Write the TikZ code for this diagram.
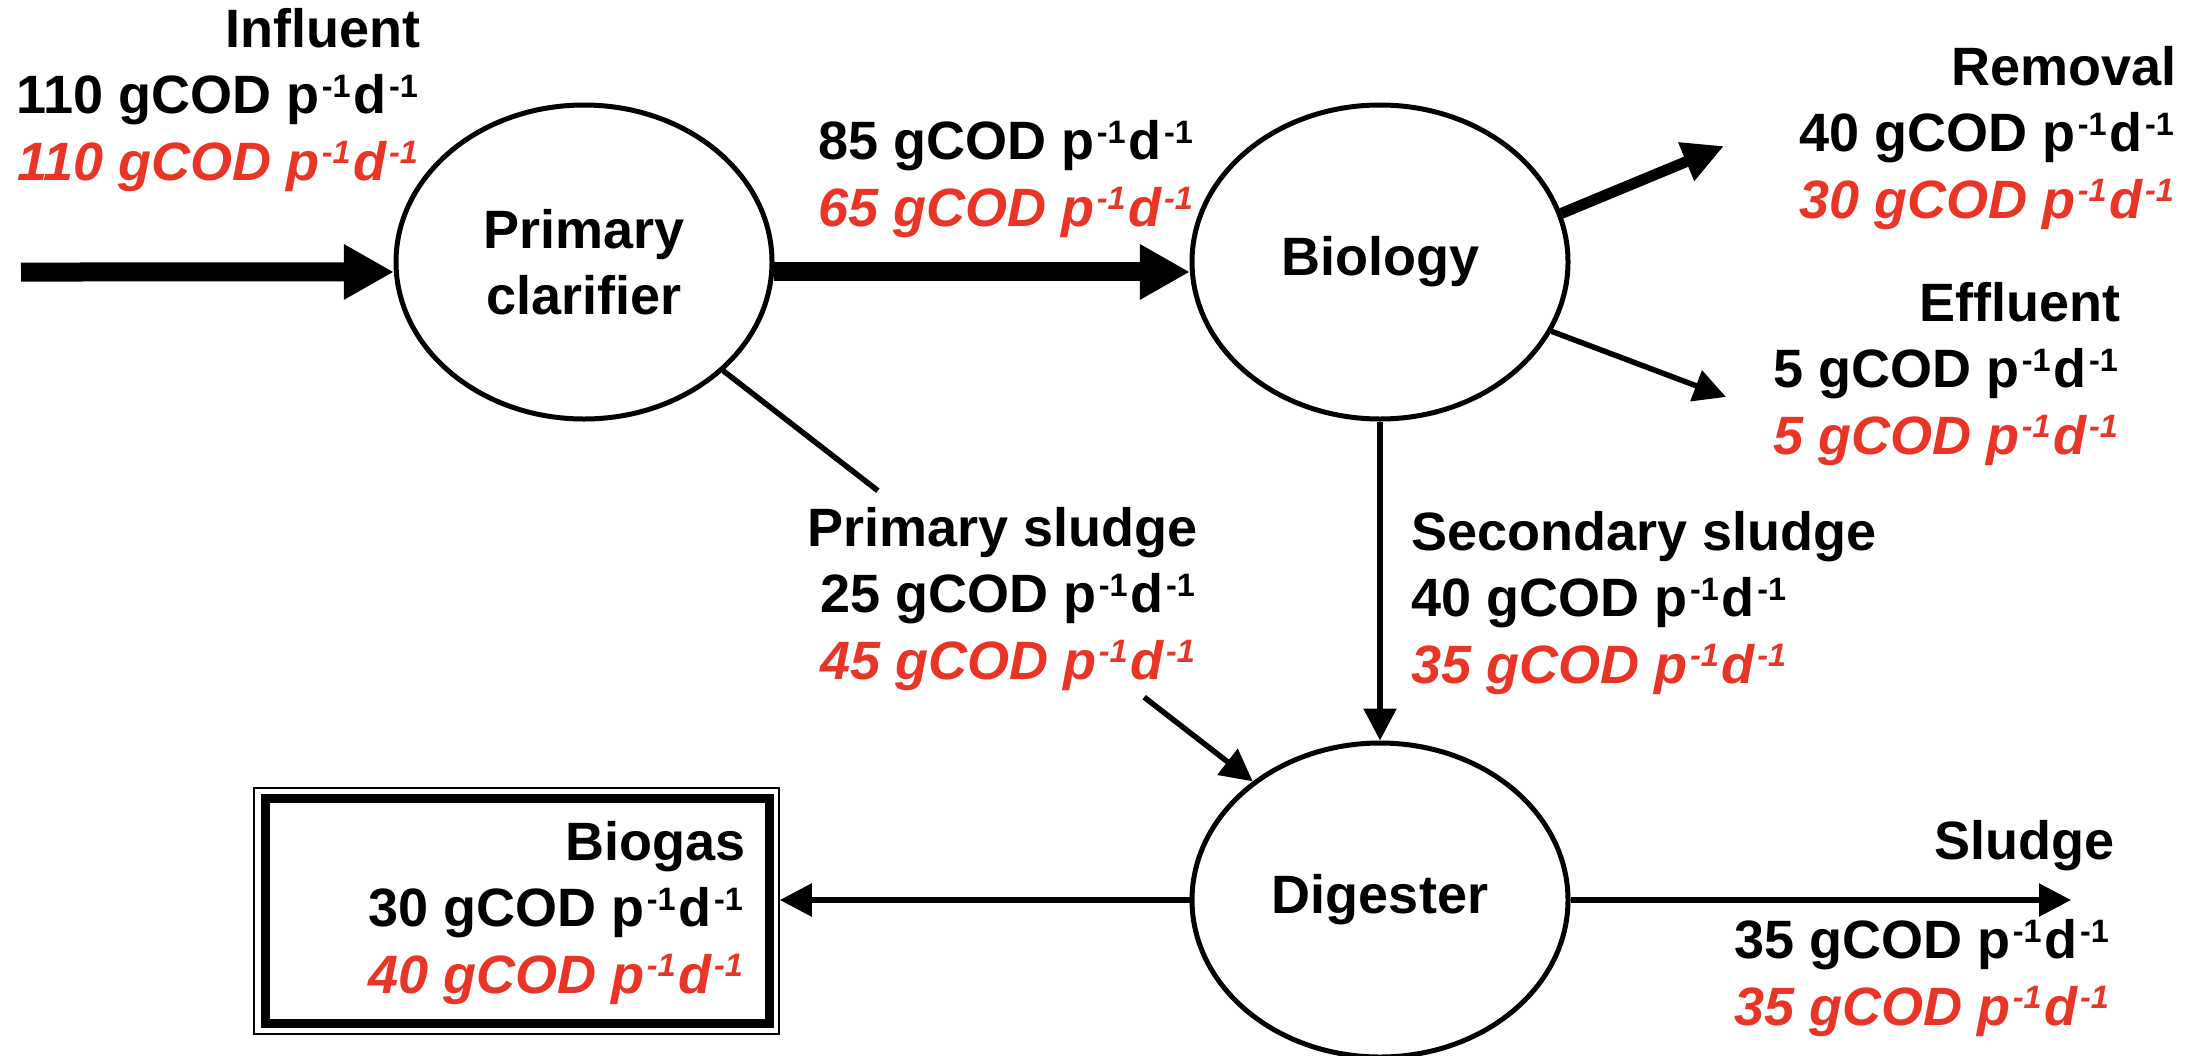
\documentclass[tikz,border=0pt]{standalone}
\usepackage{fontspec}
\setmainfont{Liberation Sans}
\usetikzlibrary{arrows.meta,shapes.geometric,calc}
\definecolor{cred}{RGB}{233,52,38}
\newcommand\pw[1]{\kern0.05em\raisebox{0.3em}{\scalebox{0.6}{#1}}\kern0.05em}
\newcommand\unitx{gCOD p\pw{-1}d\pw{-1}}
\newcommand\rv[1]{{\color{cred}\itshape #1 \unitx}}
\begin{document}
\begin{tikzpicture}[x=0.5pt,y=-0.5pt,
  every node/.style={font=\bfseries\fontsize{27}{33.25}\selectfont},
  proc/.style={ellipse, draw, line width=2.5pt, minimum width=188pt, minimum height=157pt, inner sep=0pt, align=center},
  lbl/.style={inner sep=0pt},
  ln/.style={line width=2.75pt},
  tip/.style={-{Triangle[length=16pt,width=16pt]}},
  bigtip/.style={line width=9.5pt,-{Triangle[length=25pt,width=26pt]}},
  midtip/.style={line width=5.5pt,-{Triangle[length=20.5pt,width=19.5pt]}}]
\useasboundingbox[fill=white] (0,0) rectangle (2193,1055);

% process nodes
\node[proc] (pc)  at (584,262) {Primary\\clarifier};
\node[proc] (bio) at (1380,262) {Biology};
\node[proc] (dig) at (1380,900) {Digester};
\node[draw, line width=0.75pt, minimum width=262.5pt, minimum height=123pt, inner sep=0pt] (biogas) at (516.5,911) {};
\draw[line width=4.5pt] ([shift={(6pt,-5.5pt)}]biogas.north west) rectangle ([shift={(-5pt,5.5pt)}]biogas.south east);

% free ends
\coordinate (inA) at (21,272);
\coordinate (remend) at (1724,146);
\coordinate (effend) at (1726,397);
\coordinate (sludgeend) at (2071,900);

% connectors
\draw[bigtip] (inA) -- (pc.183);
\draw[bigtip] (pc.-3) -- (bio.183);
\draw[midtip] (bio.15) -- (remend);
\draw[ln,tip] (bio.-22.5) -- (effend);
\draw[ln,tip] (bio.south) -- (dig.north);
\draw[ln] (pc.-38.7) -- ($(pc.-38.7)!0.292!(dig.137)$);
\draw[ln,tip] ($(pc.-38.7)!0.795!(dig.137)$) -- (dig.137);
\draw[ln,tip] (dig.west) -- (dig.west -| biogas.east);
\draw[ln,tip] (dig.east) -- (sludgeend);

% labels (base anchor = baseline of last line)
\node[lbl, align=right, anchor=base east] (tinf) at (421,180) {Influent\\110 \unitx\\\rv{110}};
\node[lbl, align=right, anchor=base east] (tmid) at (1196,226) {85 \unitx\\\rv{65}};
\node[lbl, align=right, anchor=base east] (trem) at (2177,218) {Removal\\40 \unitx\\\rv{30}};
\node[lbl, align=right, anchor=base east] (teff) at (2121,454) {Effluent\\5 \unitx\\\rv{5}};
\node[lbl, align=right, anchor=base east] (tps) at (1198,679) {Primary sludge\\25 \unitx\\\rv{45}};
\node[lbl, align=left, anchor=base west] (tss) at (1411,683) {Secondary sludge\\40 \unitx\\\rv{35}};
\node[lbl, align=right, anchor=base east] (tbg) at (746,993) {Biogas\\30 \unitx\\\rv{40}};
\node[lbl, anchor=base east] (tsl) at (2115,859) {Sludge};
\node[lbl, align=right, anchor=base east] (tslv) at (2112,1025) {35 \unitx\\\rv{35}};
\end{tikzpicture}
\end{document}
